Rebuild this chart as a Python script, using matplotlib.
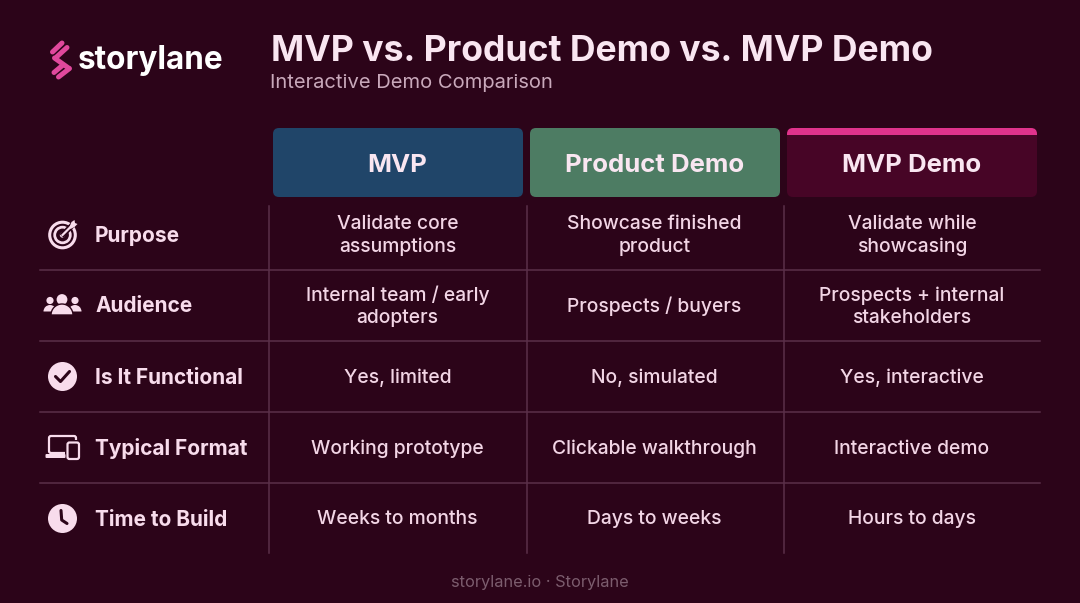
import matplotlib
matplotlib.use("Agg")
import numpy as np
import matplotlib.pyplot as plt
from matplotlib.patches import FancyBboxPatch, Circle, Rectangle, Polygon, Wedge

title = "MVP vs. Product Demo vs. MVP Demo"
subtitle = "Interactive Demo Comparison"
brand = "storylane"
footer = "storylane.io · Storylane"
columns = ["MVP", "Product Demo", "MVP Demo"]
rows = ["Purpose", "Audience", "Is It Functional", "Typical Format", "Time to Build"]
mvp = ["Validate core\nassumptions", "Internal team / early\nadopters", "Yes, limited", "Working prototype", "Weeks to months"]
product_demo = ["Showcase finished\nproduct", "Prospects / buyers", "No, simulated", "Clickable walkthrough", "Days to weeks"]
mvp_demo = ["Validate while\nshowcasing", "Prospects + internal\nstakeholders", "Yes, interactive", "Interactive demo", "Hours to days"]

BG = "#2c0419"
FG = "#f8dcec"
LINE = "#5a3049"
PINK = "#e0338c"
LOGO = "#e0489c"
FONT = "Inter"

fig = plt.figure(figsize=(10.8, 6.03), dpi=100, facecolor=BG)
ax = fig.add_axes([0, 0, 1, 1])
ax.set_xlim(0, 1080)
ax.set_ylim(603, 0)
ax.axis("off")


def txt(x, y, s, size, color=FG, weight="normal", ha="center", va="center", **kw):
    return ax.text(x, y, s, fontsize=size, color=color, fontweight=weight, ha=ha, va=va,
                   family=FONT, **kw)


# Logo: slanted pink bars forming an S
def bar(x0, y0, x1, y1, width=5.0, color=LOGO, z=3):
    ax.plot([x0, x1], [y0, y1], color=color, lw=width * 0.72, solid_capstyle="round", zorder=z)


bar(52.5, 52, 62, 43)
bar(56.5, 57, 67, 47.5)
bar(54.5, 58, 68.5, 68)
bar(54, 72.5, 63, 65)
bar(58.5, 77, 69.5, 68.5)
txt(78, 60, brand, 22.7, color="#ffffff", weight="bold", ha="left")

txt(271, 51.5, title, 25.6, weight="bold", ha="left", color="#f9e6f1")
txt(270, 82.5, subtitle, 14.5, ha="left", color="#c9a9bb")

# Column headers
col_left = [273, 530, 787]
col_w = 250
head_top, head_h = 128, 69
head_col = ["#204569", "#4d7c63", "#470526"]
centers = [397.5, 654.5, 912]
for x, c, name, cx in zip(col_left, head_col, columns, centers):
    p = FancyBboxPatch((x + 6, head_top + 6), col_w - 12, head_h - 12,
                       boxstyle="round,pad=6,rounding_size=6", fc=c, ec="none", zorder=2)
    ax.add_patch(p)
    txt(cx, 165.5, name, 18.5, weight="bold", zorder=4, color="#f9e6f1")
# Pink strip on the third header
strip = FancyBboxPatch((793, 134), 238, 1, boxstyle="round,pad=6,rounding_size=6",
                       fc=PINK, ec="none", zorder=3)
ax.add_patch(strip)
ax.add_patch(Rectangle((787, 134.5), 250, 10, fc=head_col[2], ec="none", zorder=3))

# Grid
row_y = [234.5, 305.5, 376.5, 447.5, 518.5]
row_sep = [270, 341, 412, 483]
for y in row_sep:
    ax.plot([40, 1040], [y, y], color=LINE, lw=1.1, zorder=1)
for x in [269, 526.5, 783.5]:
    ax.plot([x, x], [206, 553], color=LINE, lw=1.1, zorder=1)

# Row labels and cells
for y, label, a, b, c in zip(row_y, rows, mvp, product_demo, mvp_demo):
    txt(95, y + 1, label, 15, weight="bold", ha="left")
    for cx, s in zip(centers, (a, b, c)):
        txt(cx, y + 1, s, 13.9, weight="medium", linespacing=1.3, color="#f2d5e5")

# Icons
ix = 62.5
# target
y = row_y[0] + 0.5
ax.add_patch(Circle((ix, y), 12.8, fc="none", ec=FG, lw=2.2))
ax.add_patch(Circle((ix, y), 7.8, fc="none", ec=FG, lw=2.0))
ax.add_patch(Circle((ix, y), 2.7, fc=FG, ec="none"))
ax.plot([ix + 1, ix + 12], [y - 1, y - 12], color=BG, lw=4, zorder=3)
ax.plot([ix, ix + 11], [y, y - 11], color=FG, lw=1.6, zorder=4)
ax.add_patch(Polygon([[ix + 7, y - 8], [ix + 9, y - 13], [ix + 12, y - 15], [ix + 12.5, y - 12],
                      [ix + 15, y - 11], [ix + 12, y - 8], [ix + 8, y - 6]],
                     fc=FG, ec="none", zorder=4))
# people
y = row_y[1] + 1
for dx in (-12.5, 12.5):
    ax.add_patch(Circle((ix + dx, y - 6), 3.6, fc=FG, ec="none"))
    ax.add_patch(Wedge((ix + dx, y + 5), 6.5, 180, 360, fc=FG, ec="none"))
ax.add_patch(Circle((ix - 0.5, y - 7), 5.4, fc=FG, ec="none", zorder=3))
ax.add_patch(Wedge((ix - 0.5, y + 8.5), 11, 180, 360, fc=FG, ec=BG, lw=1.0, zorder=3))
# check
y = row_y[2]
ax.add_patch(Circle((ix, y), 14.5, fc=FG, ec="none"))
ax.plot([ix - 7, ix - 2, ix + 7], [y, y + 5, y - 5], color=BG, lw=2.2, solid_capstyle="round", zorder=3)
# devices
y = row_y[3]
ax.add_patch(FancyBboxPatch((ix - 13.5, y - 11.5), 27, 17, boxstyle="round,pad=0,rounding_size=2",
                            fc="none", ec=FG, lw=1.6))
ax.add_patch(FancyBboxPatch((ix - 16.5, y + 7), 19, 3, boxstyle="round,pad=0.5,rounding_size=1",
                            fc=FG, ec="none", zorder=3))
ax.add_patch(Rectangle((ix + 2.5, y - 8), 16, 22, fc=BG, ec="none", zorder=2))
ax.add_patch(FancyBboxPatch((ix + 5, y - 5), 11.5, 16.5, boxstyle="round,pad=0,rounding_size=2",
                            fc=BG, ec=FG, lw=1.6, zorder=4))
# clock
y = row_y[4]
ax.add_patch(Circle((ix, y), 14.5, fc=FG, ec="none"))
ax.plot([ix - 1.5, ix - 0.8, ix + 4.5], [y - 8, y + 1.5, y + 5], color=BG, lw=2.2,
        solid_capstyle="round", zorder=3)

txt(540, 582.5, footer, 11.8, color="#7c5d6e")

fig.savefig("out.png", dpi=100, facecolor=BG)
